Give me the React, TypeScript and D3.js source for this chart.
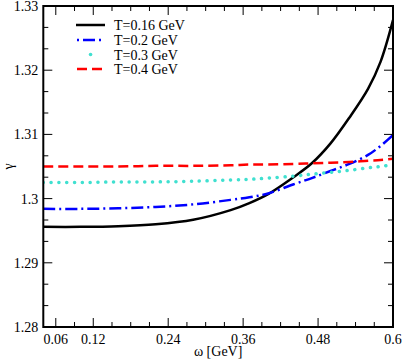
import React, { useEffect, useRef } from 'react'
import * as d3 from 'd3'

// omega in GeV
const omega = [0.04, 0.1, 0.16, 0.22, 0.28, 0.34, 0.37, 0.4, 0.44, 0.47, 0.5, 0.53, 0.56, 0.58, 0.6]

const gammaT016 = [1.2956, 1.2956, 1.2957, 1.296, 1.2967, 1.2982, 1.2993, 1.3007, 1.3033, 1.3055, 1.3086, 1.3126, 1.3171, 1.3213, 1.3278]
const gammaT02 = [1.2984, 1.2984, 1.2985, 1.2987, 1.2991, 1.2998, 1.3002, 1.3008, 1.3022, 1.3032, 1.3043, 1.3054, 1.3068, 1.3082, 1.3099]
const gammaT03 = [1.3025, 1.3025, 1.3026, 1.3026, 1.3027, 1.3029, 1.303, 1.3032, 1.3035, 1.3038, 1.3041, 1.3044, 1.3048, 1.305, 1.3053]
const gammaT04 = [1.305, 1.305, 1.305, 1.3051, 1.3051, 1.3052, 1.3053, 1.3053, 1.3054, 1.3055, 1.3056, 1.3057, 1.3059, 1.306, 1.3062]

const legendLabels = ['T=0.16 GeV', 'T=0.2 GeV', 'T=0.3 GeV', 'T=0.4 GeV']

const xMajorTicks = [0.06, 0.12, 0.24, 0.36, 0.48, 0.6]
const xMinorTicks = [0.09, 0.15, 0.18, 0.21, 0.27, 0.3, 0.33, 0.39, 0.42, 0.45, 0.51, 0.54, 0.57]
const yMajorTicks = [1.28, 1.29, 1.3, 1.31, 1.32, 1.33]

const series = [
  { values: gammaT016, color: '#000000', dash: null, width: 2.5, cap: 'butt' },
  { values: gammaT02, color: '#0000ff', dash: '12,4,2,4', width: 2.5, cap: 'butt' },
  { values: gammaT03, color: '#40e0d0', dash: '0.1,7.7', width: 3.5, cap: 'round' },
  { values: gammaT04, color: '#ff0000', dash: '10,5', width: 2.5, cap: 'butt' },
]

const W = 403
const H = 359
const margin = { top: 6, right: 10, bottom: 32, left: 43.3 }

export default function App() {
  const ref = useRef<SVGSVGElement>(null)

  useEffect(() => {
    const svg = d3.select(ref.current)
    svg.selectAll('*').remove()

    const x = d3.scaleLinear().domain([0.04, 0.6]).range([margin.left, W - margin.right])
    const y = d3.scaleLinear().domain([1.28, 1.33]).range([H - margin.bottom, margin.top])
    const font = '"Liberation Serif", "DejaVu Serif", serif'

    const x0 = x.range()[0], x1 = x.range()[1]
    const y0 = y.range()[0], y1 = y.range()[1]

    // clip for curves
    svg.append('defs').append('clipPath').attr('id', 'plotclip')
      .append('rect').attr('x', x0).attr('y', y1).attr('width', x1 - x0).attr('height', y0 - y1)

    const line = d3.line<number>()
      .x((d, i) => x(omega[i]))
      .y(d => y(d))
      .curve(d3.curveCatmullRom.alpha(0.5))

    const curves = svg.append('g').attr('clip-path', 'url(#plotclip)')
    series.forEach(s => {
      curves.append('path')
        .datum(s.values)
        .attr('fill', 'none')
        .attr('stroke', s.color)
        .attr('stroke-width', s.width)
        .attr('stroke-dasharray', s.dash)
        .attr('stroke-linecap', s.cap)
        .attr('d', line)
    })

    // ticks (inward, mirrored)
    const ticks = svg.append('g').attr('stroke', '#000').attr('stroke-width', 1)
    const xt = [...xMajorTicks.map(v => ({ v, len: 9 })), ...xMinorTicks.map(v => ({ v, len: 5 }))]
    xt.forEach(t => {
      ticks.append('line').attr('x1', x(t.v)).attr('x2', x(t.v)).attr('y1', y0).attr('y2', y0 - t.len)
      ticks.append('line').attr('x1', x(t.v)).attr('x2', x(t.v)).attr('y1', y1).attr('y2', y1 + t.len)
    })
    const yMinor: number[] = []
    for (let i = 0; i < yMajorTicks.length - 1; i++) {
      yMinor.push(yMajorTicks[i] + 0.01 / 3, yMajorTicks[i] + 0.02 / 3)
    }
    const yt = [...yMajorTicks.map(v => ({ v, len: 9 })), ...yMinor.map(v => ({ v, len: 5 }))]
    yt.forEach(t => {
      ticks.append('line').attr('y1', y(t.v)).attr('y2', y(t.v)).attr('x1', x0).attr('x2', x0 + t.len)
      ticks.append('line').attr('y1', y(t.v)).attr('y2', y(t.v)).attr('x1', x1).attr('x2', x1 - t.len)
    })

    // frame
    svg.append('rect')
      .attr('x', x0).attr('y', y1).attr('width', x1 - x0).attr('height', y0 - y1)
      .attr('fill', 'none').attr('stroke', '#000').attr('stroke-width', 2)

    // tick labels
    svg.append('g').selectAll('text').data(xMajorTicks).enter().append('text')
      .attr('x', d => x(d)).attr('y', y0 + 17)
      .attr('text-anchor', 'middle')
      .attr('font-family', font).attr('font-size', 14)
      .text(d => String(d))

    svg.append('g').selectAll('text').data(yMajorTicks).enter().append('text')
      .attr('x', x0 - 5).attr('y', d => y(d) + 5)
      .attr('text-anchor', 'end')
      .attr('font-family', font).attr('font-size', 14)
      .text(d => (d === 1.3 ? '1.3' : d.toFixed(2)))

    // axis titles
    svg.append('text')
      .attr('x', (x0 + x1) / 2).attr('y', H - 3)
      .attr('text-anchor', 'middle')
      .attr('font-family', font).attr('font-size', 14)
      .text('ω [GeV]')

    svg.append('text')
      .attr('transform', `translate(13,${(y0 + y1) / 2}) rotate(-90)`)
      .attr('text-anchor', 'middle')
      .attr('font-family', font).attr('font-size', 14)
      .text('γ')

    // legend
    const lg = svg.append('g')
    const rowY = [25, 40, 54.5, 69]
    series.forEach((s, i) => {
      const l = lg.append('line')
        .attr('x1', 76).attr('x2', 105)
        .attr('y1', rowY[i]).attr('y2', rowY[i])
        .attr('stroke', s.color)
        .attr('stroke-width', s.width)
        .attr('stroke-linecap', s.cap)
      if (i === 1) l.attr('stroke-dasharray', '2,4,12,4').attr('stroke-dashoffset', -1)
      if (i === 2) l.attr('stroke-dasharray', '0.1,40').attr('stroke-dashoffset', -14.5)
      if (i === 3) l.attr('stroke-dasharray', '10,5').attr('stroke-dashoffset', -1)
      lg.append('text')
        .attr('x', 114).attr('y', rowY[i] + 5)
        .attr('font-family', font).attr('font-size', 14)
        .text(legendLabels[i])
    })
  }, [])

  return (
    <svg
      ref={ref}
      width={W}
      height={H}
      style={{ position: 'absolute', left: 0, top: 0, background: '#fff' }}
    />
  )
}
